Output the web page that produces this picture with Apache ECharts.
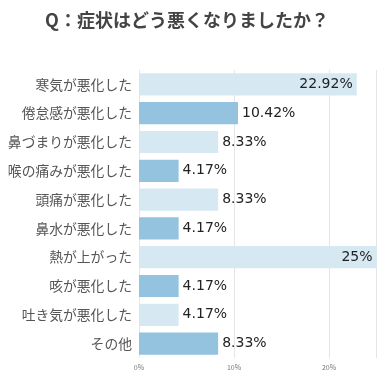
<!DOCTYPE html>
<html><head><meta charset="utf-8">
<script src="https://cdn.jsdelivr.net/npm/echarts@6/dist/echarts.min.js"></script>
<style>html,body{margin:0;padding:0;background:#fff}#c{width:385px;height:383px}</style>
</head><body><div id="c"></div>
<script>
const categories = ['寒気が悪化した','倦怠感が悪化した','鼻づまりが悪化した','喉の痛みが悪化した','頭痛が悪化した','鼻水が悪化した','熱が上がった','咳が悪化した','吐き気が悪化した','その他'];
const values = [22.92, 10.42, 8.33, 4.17, 8.33, 4.17, 25, 4.17, 4.17, 8.33];
const valueLabels = ['22.92%','10.42%','8.33%','4.17%','8.33%','4.17%','25%','4.17%','4.17%','8.33%'];
const tickLabels = ['0%','10%','20%'];
const colors = ['#d6e9f3','#93c3df'];
const font = '"Noto Sans CJK JP", sans-serif';
const chart = echarts.init(document.getElementById('c'));
chart.setOption({
  animation:false,
  title:{text:'Q：症状はどう悪くなりましたか？',left:182,textAlign:'center',top:6,
    textStyle:{fontFamily:font,fontSize:18,fontWeight:'bold',color:'#444'}},
  grid:{left:139,right:8.5,top:70,bottom:25,containLabel:false},
  xAxis:{type:'value',min:0,max:25,interval:10,
    axisLine:{show:false},axisTick:{show:false},
    splitLine:{show:true,lineStyle:{color:'#e6e6e6',width:1}},
    axisLabel:{fontSize:7,color:'#777',margin:6,fontFamily:font,
      formatter:(v)=>tickLabels[Math.round(v/10)] ?? ''}},
  yAxis:{type:'category',inverse:true,data:categories,
    axisLine:{show:false},axisTick:{show:false},
    axisLabel:{fontSize:13.8,color:'#555',margin:7,fontFamily:font}},
  series:[{type:'bar',barCategoryGap:'23%',
    data:values.map((v,i)=>({value:v,itemStyle:{color:colors[i%2]},
      label:{position:v>20?'insideRight':'right'}})),
    label:{show:true,fontSize:14,color:'#222',fontFamily:'"DejaVu Sans", sans-serif',distance:4,
      formatter:(p)=>valueLabels[p.dataIndex]}}]
});
</script></body></html>
